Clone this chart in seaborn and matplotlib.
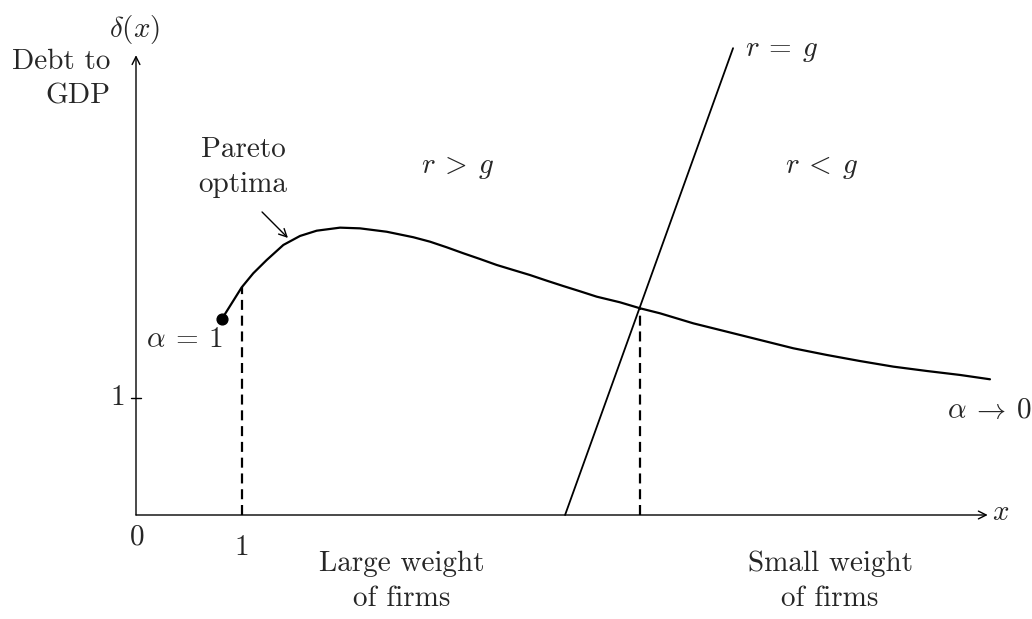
import matplotlib
matplotlib.use("Agg")
from matplotlib import pyplot as plt
import pandas as pd
import numpy as np
import seaborn as sns

sns.set_style("white")
plt.rcParams['font.family'] = ['cmr10', 'DejaVu Serif']
plt.rcParams['mathtext.fontset'] = 'cm'
plt.rcParams['axes.formatter.use_mathtext'] = True

# debt-to-GDP curve (x, delta)
curve_x = [0.801, 0.988, 1.096, 1.221, 1.377, 1.533, 1.689, 1.907, 2.093, 2.343,
           2.592, 2.748, 2.904, 3.059, 3.215, 3.371, 3.526, 3.682, 3.838, 3.993,
           4.150, 4.306, 4.523, 4.710, 4.897, 5.209, 5.521, 5.832, 6.143, 6.455,
           6.766, 7.078, 7.390, 7.701, 7.981]
curve_y = [1.673, 1.946, 2.066, 2.179, 2.308, 2.385, 2.430, 2.456, 2.450, 2.421,
           2.374, 2.336, 2.288, 2.237, 2.188, 2.137, 2.094, 2.051, 2.003, 1.957,
           1.912, 1.866, 1.818, 1.767, 1.724, 1.638, 1.567, 1.496, 1.425, 1.368,
           1.316, 1.268, 1.231, 1.197, 1.160]

# r = g line
rg_x = [4.01, 5.58]
rg_y = [0.0, 3.99]

# dashed drop lines
drop_x = [0.988, 4.71]
drop_y = [1.946, 1.767]

curve = pd.DataFrame({'x': curve_x, 'delta': curve_y})
rg = pd.DataFrame({'x': rg_x, 'delta': rg_y})

fig = plt.figure(figsize=(10.32, 6.19), dpi=100)
ax = fig.add_axes([0, 0, 1, 1])
ax.set_xlim(-136 / 107, (1032 - 136) / 107)
ax.set_ylim(-104 / 117, 515 / 117)

sns.lineplot(data=curve, x='x', y='delta', sort=False, estimator=None,
             color='black', lw=1.6, ax=ax)
sns.lineplot(data=rg, x='x', y='delta', sort=False, estimator=None,
             color='black', lw=1.3, ax=ax)
for dx, dy in zip(drop_x, drop_y):
    ax.plot([dx, dx], [0, dy], color='black', lw=1.6, ls=(0, (4.5, 2.6)))
ax.scatter([curve_x[0]], [curve_y[0]], s=60, color='black', zorder=5)

# axes with arrows
ax.axis('off')
ax.annotate('', xy=(7.96, 0), xytext=(0, 0),
            arrowprops=dict(arrowstyle='->', lw=1.0, color='black',
                            shrinkA=0, shrinkB=0, mutation_scale=14))
ax.annotate('', xy=(0, 3.93), xytext=(0, 0),
            arrowprops=dict(arrowstyle='->', lw=1.0, color='black',
                            shrinkA=0, shrinkB=0, mutation_scale=14))
ax.plot([-0.045, 0.045], [1, 1], color='black', lw=1.0)

fs = 21
ls2 = 1.4
ax.text(-0.01, 4.15, r'$\delta(x)$', fontsize=fs, ha='center', va='center')
ax.text(-0.24, 3.73, 'Debt to\nGDP', fontsize=fs, ha='right', va='center',
        multialignment='right', linespacing=ls2)
ax.text(1.0, 2.97, 'Pareto\noptima', fontsize=fs, ha='center', va='center',
        linespacing=ls2)
ax.annotate('', xy=(1.42, 2.368), xytext=(1.178, 2.59),
            arrowprops=dict(arrowstyle='->', lw=1.0, color='black',
                            shrinkA=0, shrinkB=0, mutation_scale=14))
ax.text(3.01, 2.97, r'$r\:>\:g$', fontsize=fs, ha='center', va='center')
ax.text(6.41, 2.97, r'$r\:<\:g$', fontsize=fs, ha='center', va='center')
ax.text(5.69, 3.97, r'$r\:=\:g$', fontsize=fs, ha='left', va='center')
ax.text(0.45, 1.50, r'$\alpha\:=\:1$', fontsize=fs, ha='center', va='center')
ax.text(7.98, 0.89, r'$\alpha\:\rightarrow\:0$', fontsize=fs, ha='center', va='center')
ax.text(-0.17, 1.0, '1', fontsize=fs, ha='center', va='center')
ax.text(0.01, -0.19, '0', fontsize=fs, ha='center', va='center')
ax.text(0.99, -0.28, '1', fontsize=fs, ha='center', va='center')
ax.text(8.0, 0.02, r'$x$', fontsize=fs, ha='left', va='center')
ax.text(2.486, -0.566, 'Large weight\nof firms', fontsize=fs, ha='center',
        va='center', linespacing=ls2)
ax.text(6.486, -0.566, 'Small weight\nof firms', fontsize=fs, ha='center',
        va='center', linespacing=ls2)

plt.savefig("out.png", dpi=100)
